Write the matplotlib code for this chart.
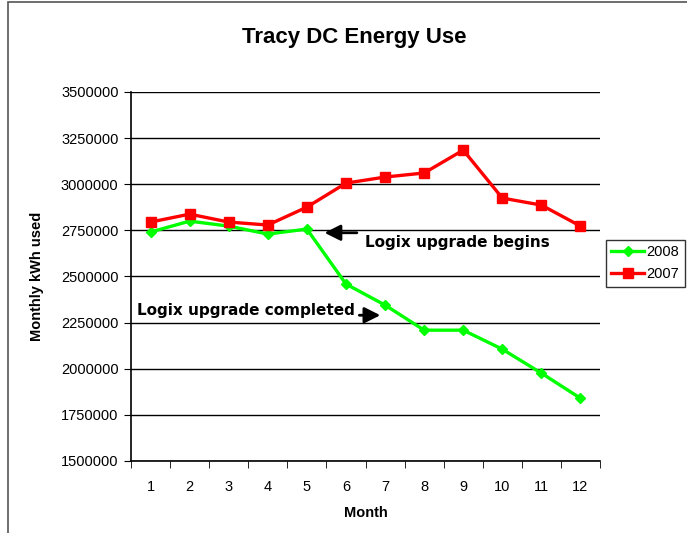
import matplotlib.pyplot as plt
from matplotlib.patches import Rectangle

# monthly kWh values
months = [1, 2, 3, 4, 5, 6, 7, 8, 9, 10, 11, 12]
use_2008 = [2741000, 2800000, 2773000, 2730000, 2757000, 2459000,
            2345000, 2209000, 2209000, 2106000, 1976000, 1840000]
use_2007 = [2795000, 2838000, 2795000, 2779000, 2876000, 3006000,
            3039000, 3061000, 3185000, 2925000, 2887000, 2773000]
yticks = list(range(1500000, 3500001, 250000))

plt.rcParams['font.family'] = ['Liberation Sans', 'DejaVu Sans']

fig = plt.figure(figsize=(6.87, 5.33), dpi=100)
ax = fig.add_axes([0.1907, 0.1351, 0.6827, 0.6923])

# outer chart frame (runs off the right and bottom edges)
fig.patches.append(Rectangle((8 / 687, -0.1), 2, 1.1 - 2 / 533, transform=fig.transFigure,
                             fill=False, edgecolor='#555555', linewidth=1.2))

ax.plot(months, use_2008, color='#00ff00', linewidth=2.4, marker='D',
        markersize=5.5, label='2008', zorder=3)
ax.plot(months, use_2007, color='#ff0000', linewidth=2.4, marker='s',
        markersize=7, label='2007', zorder=3)

ax.set_xlim(0.5, 12.5)
ax.set_ylim(1500000, 3500000)
ax.set_yticks(yticks)
ax.set_yticklabels([str(v) for v in yticks], fontsize=10.5)
ax.set_xticks(months)
ax.set_xticklabels([str(m) for m in months], fontsize=10.5)
ax.set_xticks([m + 0.5 for m in [0] + months], minor=True)
ax.tick_params(axis='x', which='major', length=0, pad=14)
ax.tick_params(axis='x', which='minor', length=5, direction='out', color='black')
ax.tick_params(axis='y', length=5, direction='out', pad=4)

ax.grid(axis='y', color='black', linewidth=1)
ax.set_axisbelow(True)
for s in ['top', 'right']:
    ax.spines[s].set_visible(False)
ax.spines['left'].set_linewidth(1.2)
ax.spines['bottom'].set_linewidth(1.2)

ax.set_xlabel('Month', fontsize=10.5, fontweight='bold', labelpad=8)
ax.set_ylabel('Monthly kWh used', fontsize=10.5, fontweight='bold', labelpad=12)
fig.text(0.515, 0.929, 'Tracy DC Energy Use', fontsize=16, fontweight='bold',
         ha='center', va='center')

# annotations
arrow = dict(arrowstyle='-|>', color='black', lw=2, mutation_scale=24)
ax.annotate('', xy=(5.38, 2737000), xytext=(6.35, 2737000), arrowprops=arrow)
ax.text(6.48, 2685000, 'Logix upgrade begins', fontsize=11, fontweight='bold',
        family='DejaVu Sans', va='center', ha='left')
ax.annotate('', xy=(6.95, 2290000), xytext=(6.27, 2290000), arrowprops=arrow)
ax.text(0.65, 2318000, 'Logix upgrade completed', fontsize=11, fontweight='bold',
        family='DejaVu Sans', va='center', ha='left')

leg = ax.legend(loc='upper left', bbox_to_anchor=(1.012, 0.6), frameon=True,
                fancybox=False, edgecolor='black', fontsize=10.5, handlelength=2.2,
                borderaxespad=0, handletextpad=0.2, borderpad=0.4)
leg.get_frame().set_linewidth(1)

fig.savefig('out.png', dpi=100)
